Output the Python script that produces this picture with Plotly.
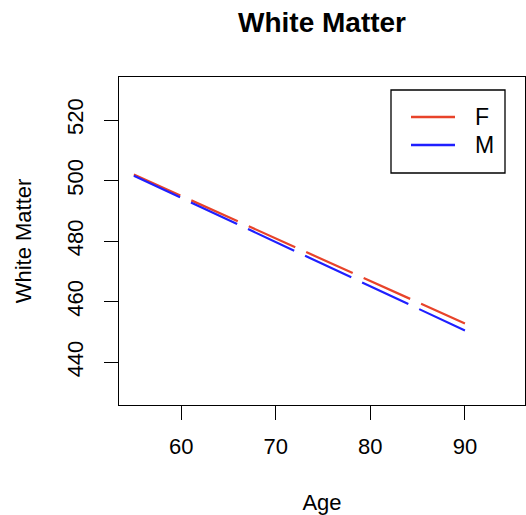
import plotly.graph_objects as go

# Data
ages = [55, 90]
white_f = [502.0, 452.8]
white_m = [501.6, 450.5]
series_names = ["F", "M"]

x_ticks = [60, 70, 80, 90]
y_ticks = [440, 460, 480, 500, 520]

RED = "#E8432A"
BLUE = "#1F1FFF"
FONT = "Liberation Sans, Arial, sans-serif"

W, H = 526, 515
L, R, T, B = 119, 1, 77, 110
PW, PH = W - L - R, H - T - B

fig = go.Figure()
for name, ys, col in [(series_names[0], white_f, RED), (series_names[1], white_m, BLUE)]:
    fig.add_trace(go.Scatter(x=ages, y=ys, mode="lines", name=name, showlegend=False,
                             hoverinfo="skip",
                             line=dict(color=col, width=2.2, dash="51px,12px")))

# Legend drawn as a boxed key (paper coordinates converted from pixel layout)
def px(xp):
    return (xp - L) / PW

def py(yp):
    return (H - B - yp) / PH

shapes = [dict(type="rect", xref="paper", yref="paper",
               x0=px(391), x1=px(505), y0=py(173), y1=py(90),
               line=dict(color="black", width=1.3), fillcolor="white", layer="above")]
annotations = []
for i, (name, col) in enumerate([(series_names[0], RED), (series_names[1], BLUE)]):
    yy = 117 + i * 28
    shapes.append(dict(type="line", xref="paper", yref="paper",
                       x0=px(411), x1=px(455), y0=py(yy), y1=py(yy),
                       line=dict(color=col, width=2.4), layer="above"))
    annotations.append(dict(xref="paper", yref="paper", x=px(473), y=py(yy),
                            xanchor="left", yanchor="middle", text=name, showarrow=False,
                            font=dict(size=23, family=FONT, color="black")))

fig.update_layout(
    width=W, height=H,
    margin=dict(l=L, r=R, t=T, b=B, pad=0),
    paper_bgcolor="white", plot_bgcolor="white",
    font=dict(family=FONT, size=22, color="black"),
    title=dict(text="<b>White Matter</b>", x=(119 + 525) / 2 / W, xanchor="center",
               y=1 - 22 / H, yanchor="middle", font=dict(size=28, family=FONT)),
    showlegend=False,
    shapes=shapes, annotations=annotations,
)

fig.update_xaxes(
    range=[53.43, 96.35], tickvals=x_ticks, ticktext=[str(v) for v in x_ticks],
    showgrid=False, zeroline=False, showline=True, mirror=True,
    linecolor="black", linewidth=1.3, ticks="outside", ticklen=14,
    tickwidth=1.3, tickcolor="black", ticklabelstandoff=7,
    title=dict(text="Age", standoff=38, font=dict(size=22)),
)
fig.update_yaxes(
    range=[425.9, 534.2], tickvals=y_ticks, ticktext=[str(v) for v in y_ticks],
    showgrid=False, zeroline=False, showline=True, mirror=True,
    linecolor="black", linewidth=1.3, ticks="outside", ticklen=14,
    tickwidth=1.3, tickcolor="black", tickangle=-90, ticklabelstandoff=12,
    title=dict(text="White Matter", standoff=25, font=dict(size=22)),
)

fig.write_html("out.html", config={"displayModeBar": False},
               post_script="document.body.style.margin='0';document.body.style.overflow='hidden';")
